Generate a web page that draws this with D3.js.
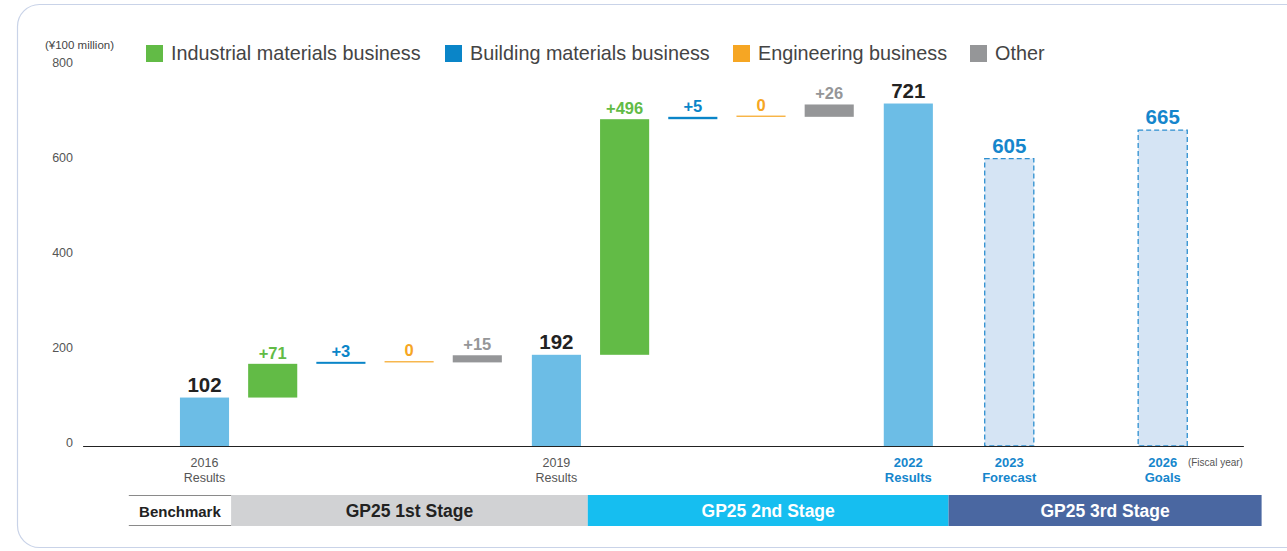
<!DOCTYPE html>
<html>
<head>
<meta charset="utf-8">
<script src="https://cdn.jsdelivr.net/npm/d3@7"></script>
<style>
  body { margin: 0; background: #fff; }
  text { font-family: "Liberation Sans", Arial, Helvetica, sans-serif; }
</style>
</head>
<body>
<script>
// ---- data ----
var categories = ["2016 Results", "Ind +", "Bld +", "Eng +", "Oth +", "2019 Results",
                  "Ind +", "Bld +", "Eng +", "Oth +", "2022 Results", "2023 Forecast", "2026 Goals"];
var kinds      = ["total", "delta", "delta", "delta", "delta", "total",
                  "delta", "delta", "delta", "delta", "total", "plan", "plan"];
var segments   = [null, "ind", "bld", "eng", "oth", null, "ind", "bld", "eng", "oth", null, null, null];
var values     = [102, 71, 3, 0, 15, 192, 496, 5, 0, 26, 721, 605, 665];
var steps      = [0, 1, 1, 1, 1, 1.16, 1, 1, 1, 1, 1.16, 1.48, 2.25]; // spacing between columns
var yearLabels = ["2016", "", "", "", "", "2019", "", "", "", "", "2022", "2023", "2026"];
var subLabels  = ["Results", "", "", "", "", "Results", "", "", "", "", "Results", "Forecast", "Goals"];

var legendNames = ["Industrial materials business", "Building materials business", "Engineering business", "Other"];
var legendKeys  = ["ind", "bld", "eng", "oth"];
var yTicks      = [0, 200, 400, 600, 800];

var stageNames = ["Benchmark", "GP25 1st Stage", "GP25 2nd Stage", "GP25 3rd Stage"];
var stageSpans = [[-1.11, 0.39], [0.39, 5.62], [5.62, 10.91], [10.91, 15.5]];

// ---- setup ----
var W = 1287, H = 551;
var colors = { ind: "#62BB46", bld: "#0A85C8", eng: "#F6A623", oth: "#959698" };
var totalFill = "#6CBDE6", planFill = "#D5E4F4", planStroke = "#2D8FD0", blueText = "#1586CC";

var svg = d3.select("body").append("svg").attr("width", W).attr("height", H);

// outer rounded frame
svg.append("rect")
  .attr("x", 17.5).attr("y", 4.5).attr("width", 1300).attr("height", 543)
  .attr("rx", 22).attr("fill", "none").attr("stroke", "#C9D3E8").attr("stroke-width", 1.2);

var x = d3.scaleLinear().domain([0, 1]).range([204.5, 272.7]);
var y = d3.scaleLinear().domain([0, 800]).range([446, 66]);
var barW = x(0.72) - x(0);

// build waterfall rows
var slot = 0, running = 0;
var rows = categories.map(function (c, i) {
  slot += steps[i];
  var r = { name: c, kind: kinds[i], seg: segments[i], value: values[i], slot: slot,
            year: yearLabels[i], sub: subLabels[i] };
  if (kinds[i] === "delta") {
    r.y0 = running; r.y1 = running + values[i]; running = r.y1;
  } else {
    r.y0 = 0; r.y1 = values[i];
    if (kinds[i] === "total") running = values[i];
  }
  return r;
});

function barH(d) { return Math.max(y(d.y0) - y(d.y1), d.value === 0 ? 1.2 : 2); }

// y axis (labels only)
var yAxis = svg.append("g").attr("transform", "translate(73,-4)")
  .call(d3.axisLeft(y).tickValues(yTicks).tickSize(0).tickPadding(0));
yAxis.select(".domain").remove();
yAxis.selectAll("text").attr("font-size", 12.5).attr("fill", "#555")
  .attr("font-family", "Liberation Sans, Arial, sans-serif");

svg.append("text").attr("x", 45).attr("y", 49).attr("font-size", 11.5).attr("fill", "#444")
  .text("(¥100 million)");

// bars
svg.selectAll(".bar").data(rows).enter().append("rect")
  .attr("class", "bar")
  .attr("x", function (d) { return x(d.slot) - barW / 2; })
  .attr("width", barW)
  .attr("y", function (d) { return y(d.y0) - barH(d); })
  .attr("height", barH)
  .attr("fill", function (d) {
    return d.kind === "delta" ? colors[d.seg] : d.kind === "total" ? totalFill : planFill;
  })
  .attr("stroke", function (d) { return d.kind === "plan" ? planStroke : "none"; })
  .attr("stroke-width", 1.3)
  .attr("stroke-dasharray", function (d) { return d.kind === "plan" ? "5,3" : null; });

// value labels
svg.selectAll(".val").data(rows).enter().append("text")
  .attr("class", "val")
  .attr("x", function (d) { return x(d.slot); })
  .attr("y", function (d) { return y(d.y0) - barH(d) - (d.kind === "delta" ? 5 : 6); })
  .attr("text-anchor", "middle")
  .attr("font-weight", "bold")
  .attr("font-size", function (d) { return d.kind === "delta" ? 16.5 : 20.5; })
  .attr("fill", function (d) {
    return d.kind === "delta" ? colors[d.seg] : d.kind === "total" ? "#222" : blueText;
  })
  .text(function (d) { return d.kind === "delta" ? (d.value > 0 ? "+" + d.value : d.value) : d.value; });

// baseline
svg.append("line").attr("x1", x(-1.78)).attr("x2", x(15.24))
  .attr("y1", y(0) + 0.5).attr("y2", y(0) + 0.5).attr("stroke", "#222").attr("stroke-width", 1);

// category labels
var highlight = function (d) { return d.slot > 10; };
var catG = svg.selectAll(".cat").data(rows.filter(function (d) { return d.year !== ""; }))
  .enter().append("text").attr("class", "cat")
  .attr("text-anchor", "middle")
  .attr("font-size", function (d) { return highlight(d) ? 13 : 12.5; })
  .attr("font-weight", function (d) { return highlight(d) ? "bold" : "normal"; })
  .attr("fill", function (d) { return highlight(d) ? blueText : "#555"; });
catG.append("tspan").attr("y", 467).attr("x", function (d) { return x(d.slot); })
  .text(function (d) { return d.year; });
catG.append("tspan").attr("y", 482).attr("x", function (d) { return x(d.slot); })
  .text(function (d) { return d.sub; });

svg.append("text").attr("x", x(14.42)).attr("y", 466).attr("font-size", 11.5).attr("fill", "#555")
  .attr("textLength", 55).attr("lengthAdjust", "spacingAndGlyphs")
  .text("(Fiscal year)");

// stage band
var stageFill = ["#FFFFFF", "#D1D2D4", "#16BEF0", "#4A67A1"];
var stageText = ["#222", "#222", "#FFFFFF", "#FFFFFF"];
var stages = svg.selectAll(".stage").data(stageNames).enter().append("g").attr("class", "stage");
stages.append("rect")
  .attr("x", function (d, i) { return x(stageSpans[i][0]); })
  .attr("width", function (d, i) { return x(stageSpans[i][1]) - x(stageSpans[i][0]); })
  .attr("y", 495).attr("height", 31)
  .attr("fill", function (d, i) { return stageFill[i]; });
stages.append("text")
  .attr("x", function (d, i) { return (x(stageSpans[i][0]) + x(stageSpans[i][1])) / 2; })
  .attr("y", 517).attr("text-anchor", "middle").attr("font-weight", "bold")
  .attr("font-size", function (d, i) { return i === 0 ? 15 : 17.5; })
  .attr("fill", function (d, i) { return stageText[i]; })
  .text(function (d) { return d; });
// benchmark border lines
[495.5, 525.5].forEach(function (yy) {
  svg.append("line").attr("x1", x(stageSpans[0][0])).attr("x2", x(stageSpans[0][1]))
    .attr("y1", yy).attr("y2", yy).attr("stroke", "#8A8A8A").attr("stroke-width", 1);
});

// legend
var legendX = [146, 445, 733, 970];
var lg = svg.selectAll(".lg").data(legendNames).enter().append("g").attr("class", "lg")
  .attr("transform", function (d, i) { return "translate(" + legendX[i] + ",45)"; });
lg.append("rect").attr("width", 17).attr("height", 17)
  .attr("fill", function (d, i) { return colors[legendKeys[i]]; });
lg.append("text").attr("x", 25).attr("y", 15).attr("font-size", 19.8).attr("fill", "#444")
  .text(function (d) { return d; });
</script>
</body>
</html>
